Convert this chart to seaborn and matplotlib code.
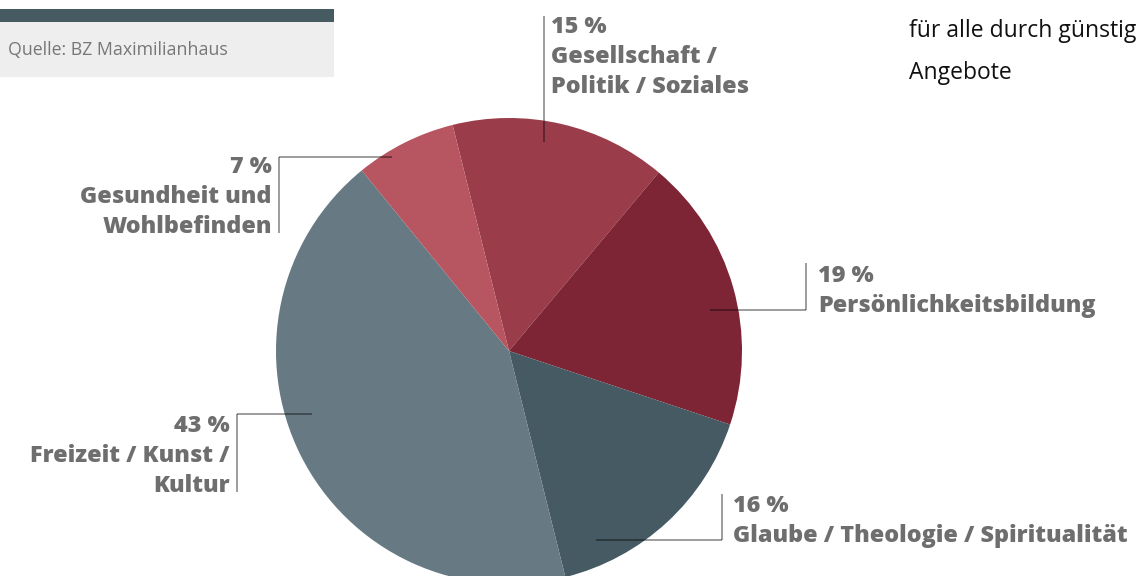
import matplotlib
matplotlib.use("Agg")
import matplotlib.pyplot as plt
import seaborn as sns
from matplotlib.patches import Rectangle

# Shares of course offerings by topic area (percent), clockwise from the top
categories = [
    "Gesellschaft / Politik / Soziales",
    "Persönlichkeitsbildung",
    "Glaube / Theologie / Spiritualität",
    "Freizeit / Kunst / Kultur",
    "Gesundheit und Wohlbefinden",
]
shares = [15, 19, 16, 43, 7]
label_lines = [
    ["Gesellschaft /", "Politik / Soziales"],
    ["Persönlichkeitsbildung"],
    ["Glaube / Theologie / Spiritualität"],
    ["Freizeit / Kunst /", "Kultur"],
    ["Gesundheit und", "Wohlbefinden"],
]
colors = ["#9a3c4a", "#7e2535", "#455a63", "#677a84", "#b75660"]

source_text = "Quelle: BZ Maximilianhaus"
side_text = ["für alle durch günstig", "Angebote"]

sns.set_theme(style="white")
plt.rcParams["font.family"] = ["Open Sans", "DejaVu Sans"]

W, H = 1144, 576
fig = plt.figure(figsize=(W / 100, H / 100), dpi=100)
ax = fig.add_axes([0, 0, 1, 1])

# Pie: y axis is inverted below, so counterclock=True runs clockwise on screen
ax.pie(shares, colors=colors, center=(509, 351), radius=233,
       startangle=-104, counterclock=True, frame=True,
       wedgeprops=dict(linewidth=0, antialiased=True))
ax.set_xlim(0, W)
ax.set_ylim(H, 0)  # pixel-style coordinates, y downwards
ax.set_aspect("equal")
ax.axis("off")

# Leader layout per category: anchor in wedge, elbow x, line top, text x, alignment, first baseline
layout = [
    dict(anchor=(544, 142), elbow_x=544, top=16, text_x=551, ha="left", base=33),
    dict(anchor=(710, 310), elbow_x=806, top=263, text_x=818, ha="left", base=282),
    dict(anchor=(596, 540), elbow_x=722, top=494, text_x=733, ha="left", base=512),
    dict(anchor=(312, 414), elbow_x=237, top=414, text_x=230, ha="right", base=432),
    dict(anchor=(392, 157), elbow_x=279, top=157, text_x=272, ha="right", base=173),
]

text_color = "#6e6e6e"
line_color = (0, 0, 0, 0.45)
fs = 16.8
step = 30

for share, lines, lay in zip(shares, label_lines, layout):
    px, py = lay["anchor"]
    ex = lay["elbow_x"]
    texts = [f"{share} %"] + lines
    last_base = lay["base"] + step * (len(texts) - 1)
    if py == lay["top"]:
        # horizontal at the top, vertical running down along the text
        ax.plot([px, ex], [py, py], color=line_color, lw=1.2, solid_capstyle="butt")
        ax.plot([ex, ex], [py, last_base], color=line_color, lw=1.2, solid_capstyle="butt")
    else:
        # vertical from the text top down to the anchor height, then across to the anchor
        ax.plot([ex, ex], [lay["top"], py], color=line_color, lw=1.2, solid_capstyle="butt")
        ax.plot([ex, px], [py, py], color=line_color, lw=1.2, solid_capstyle="butt")
    for i, t in enumerate(texts):
        ax.text(lay["text_x"], lay["base"] + i * step, t, ha=lay["ha"], va="baseline",
                fontsize=fs, fontweight=800, color=text_color)

# Source box in the upper left
ax.add_patch(Rectangle((0, 22), 334, 55, facecolor="#eeeeee", edgecolor="none", zorder=0))
ax.add_patch(Rectangle((0, 9), 334, 13, facecolor="#465a62", edgecolor="none", zorder=0))
ax.text(8, 55, source_text, ha="left", va="baseline", fontsize=12.8, color="#777777")

# Running text on the right
ax.text(909, 37, side_text[0], ha="left", va="baseline", fontsize=16.5, color="#111111")
ax.text(909, 79, side_text[1], ha="left", va="baseline", fontsize=16.5, color="#111111")

fig.savefig("out.png", dpi=100)
